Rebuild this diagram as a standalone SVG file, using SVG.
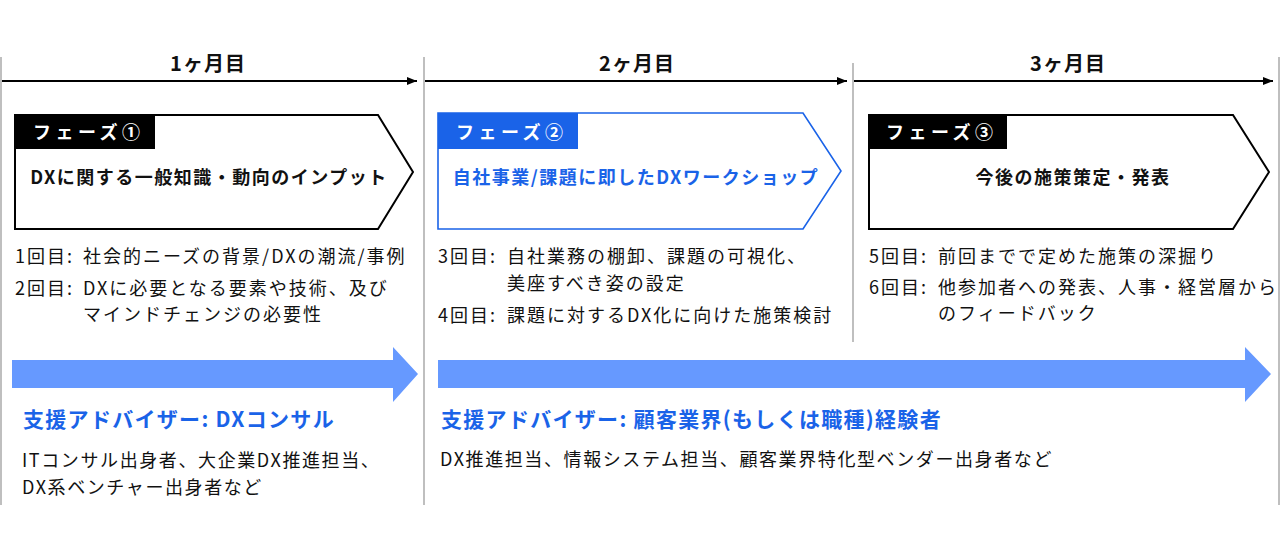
<svg xmlns="http://www.w3.org/2000/svg" width="1280" height="555" viewBox="0 0 1280 555">
<style>
text{font-family:"Noto Sans CJK JP","Noto Sans",sans-serif;}
.month{font-size:20px;font-weight:700;fill:#111;text-anchor:middle;letter-spacing:1px}
.tag{font-size:18px;font-weight:700;fill:#fff;letter-spacing:4.5px}
.title{font-size:18px;font-weight:700;fill:#111;text-anchor:middle;letter-spacing:1.5px}
.item{font-size:18px;fill:#111;letter-spacing:2px}
.adv{font-size:21px;font-weight:700;fill:#1a63e8;letter-spacing:1.3px}
.desc{font-size:18px;fill:#111;letter-spacing:1.6px}
.vline{stroke:#aaaaaa;stroke-width:1.5;fill:none}
.hline{stroke:#000;stroke-width:2;fill:none}
.bigarrow{fill:#6699ff}
</style>
<defs>
<marker id="ah" viewBox="0 0 10 10" refX="10" refY="5" markerWidth="10" markerHeight="10" markerUnits="userSpaceOnUse" orient="auto">
<path d="M0,1 L10,5 L0,9 Z" fill="#000"/>
</marker>
</defs>
<rect width="1280" height="555" fill="#fff"/>
<g id="gridlines">
<line class="vline" x1="1" y1="57" x2="1" y2="505"/>
<line class="vline" x1="424" y1="57" x2="424" y2="505"/>
<line class="vline" x1="853" y1="63" x2="853" y2="342"/>
<line class="vline" x1="1279" y1="57" x2="1279" y2="505"/>
</g>
<g id="connectors">
<line class="hline" x1="2" y1="81" x2="417" y2="81" marker-end="url(#ah)"/>
<line class="hline" x1="425" y1="81" x2="847" y2="81" marker-end="url(#ah)"/>
<line class="hline" x1="854" y1="81" x2="1273" y2="81" marker-end="url(#ah)"/>
<path class="bigarrow" d="M12,360 L393,360 L393,347 L418,374 L393,402 L393,388 L12,388 Z"/>
<path class="bigarrow" d="M438,360 L1245,360 L1245,347 L1271,374 L1245,402 L1245,388 L438,388 Z"/>
</g>
<g id="month1"><text class="month" x="208" y="71">1ヶ月目</text></g>
<g id="month2"><text class="month" x="637" y="71">2ヶ月目</text></g>
<g id="month3"><text class="month" x="1068" y="71">3ヶ月目</text></g>
<g id="phase1">
<path d="M15,115 L378,115 L413,172 L378,229 L15,229 Z" fill="#fff" stroke="#000" stroke-width="2"/>
<rect x="15" y="115" width="140" height="34" fill="#000"/>
<text class="tag" x="33" y="139">フェーズ①</text>
<text class="title" x="209" y="184">DXに関する一般知識・動向のインプット</text>
</g>
<g id="phase2">
<path d="M438,113 L803,113 L841,171 L803,229 L438,229 Z" fill="#fff" stroke="#1a63e8" stroke-width="1.6"/>
<rect x="438" y="113" width="140" height="36" fill="#1a63e8"/>
<text class="tag" x="456" y="139">フェーズ②</text>
<text class="title" x="636" y="184" style="fill:#1a63e8">自社事業/課題に即したDXワークショップ</text>
</g>
<g id="phase3">
<path d="M869,115 L1233,115 L1269,172 L1233,229 L869,229 Z" fill="#fff" stroke="#000" stroke-width="2"/>
<rect x="869" y="115" width="138" height="34" fill="#000"/>
<text class="tag" x="886" y="139">フェーズ③</text>
<text class="title" x="1073" y="184">今後の施策策定・発表</text>
</g>
<g id="items1">
<text class="item" y="263"><tspan x="15">1回目:</tspan><tspan x="83">社会的ニーズの背景/DXの潮流/事例</tspan></text>
<text class="item" y="295"><tspan x="15">2回目:</tspan><tspan x="83">DXに必要となる要素や技術、及び</tspan></text>
<text class="item" x="83" y="321">マインドチェンジの必要性</text>
</g>
<g id="items2">
<text class="item" y="263"><tspan x="438">3回目:</tspan><tspan x="507">自社業務の棚卸、課題の可視化、</tspan></text>
<text class="item" x="507" y="290">美座すべき姿の設定</text>
<text class="item" y="322"><tspan x="438">4回目:</tspan><tspan x="507">課題に対するDX化に向けた施策検討</tspan></text>
</g>
<g id="items3">
<text class="item" y="263"><tspan x="869">5回目:</tspan><tspan x="938">前回までで定めた施策の深掘り</tspan></text>
<text class="item" y="294"><tspan x="869">6回目:</tspan><tspan x="938">他参加者への発表、人事・経営層から</tspan></text>
<text class="item" x="938" y="320">のフィードバック</text>
</g>
<g id="advisor1">
<text class="adv" x="23" y="427">支援アドバイザー: DXコンサル</text>
<text class="desc" x="22" y="467">ITコンサル出身者、大企業DX推進担当、</text>
<text class="desc" x="22" y="494">DX系ベンチャー出身者など</text>
</g>
<g id="advisor2">
<text class="adv" x="441" y="427">支援アドバイザー: 顧客業界(もしくは職種)経験者</text>
<text class="desc" x="440" y="466">DX推進担当、情報システム担当、顧客業界特化型ベンダー出身者など</text>
</g>
</svg>
